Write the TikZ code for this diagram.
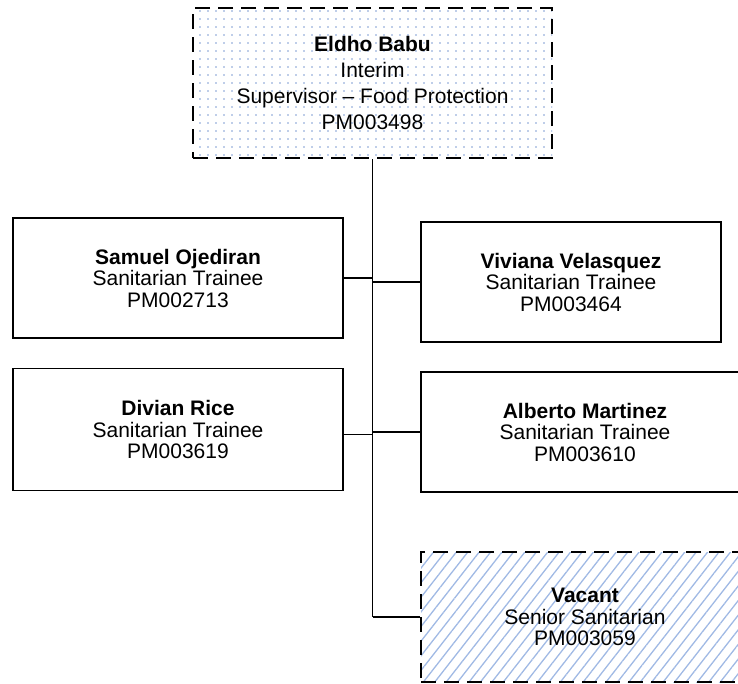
\documentclass[tikz,border=0pt]{standalone}
\usepackage{fontspec}
\setmainfont{Liberation Sans}
\usetikzlibrary{patterns.meta}

\definecolor{dotblue}{RGB}{125,155,210}
\definecolor{hatchblue}{RGB}{160,185,228}

\begin{document}
\begin{tikzpicture}[x=1pt, y=-1pt,
    staffbox/.style={draw, line width=1.8pt, align=center, inner sep=0pt,
      minimum height=120pt, font=\fontsize{21}{21.5}\selectfont},
    openbox/.style={staffbox, dash pattern=on 15pt off 8pt},
    link/.style={line width=1.8pt}]
          \useasboundingbox (0,0) rectangle (738,683);

          \node[openbox, line width=2pt, pattern={Dots[distance=8pt, radius=0.9pt]}, pattern color=dotblue,
                minimum width=359pt, minimum height=150pt,
                font=\fontsize{21}{26.3}\selectfont] (babu) at (372.5, 83)
                {\textbf{Eldho Babu}\\Interim\\Supervisor – Food Protection\\PM003498};
          \node[staffbox, minimum width=330pt] (ojediran) at (178, 278)
                {\textbf{Samuel Ojediran}\\Sanitarian Trainee\\PM002713};
          \node[staffbox, minimum width=300pt] (velasquez) at (571, 282)
                {\textbf{Viviana Velasquez}\\Sanitarian Trainee\\PM003464};
          \node[staffbox, minimum width=330pt, minimum height=122pt] (rice) at (178, 429.5)
                {\textbf{Divian Rice}\\Sanitarian Trainee\\PM003619};
          \node[staffbox, minimum width=328pt] (martinez) at (585, 432)
                {\textbf{Alberto Martinez}\\Sanitarian Trainee\\PM003610};
          \node[openbox, line width=1.4pt, pattern={Lines[angle=52, distance=9pt, line width=1.3pt]},
                pattern color=hatchblue, minimum width=328pt, minimum height=130pt] (vacant) at (585, 617)
                {\textbf{Vacant}\\Senior Sanitarian\\PM003059};

          % reporting lines
          \draw[link] (babu.south) -- (babu.south |- vacant.west);
          \draw[link] (ojediran.east) -- (ojediran.east -| babu.south);
          \draw[link] (velasquez.west) -- (velasquez.west -| babu.south);
          \draw[link] ([yshift=-5pt]rice.east) -- ([yshift=-5pt]rice.east -| babu.south);
          \draw[link] (martinez.west) -- (martinez.west -| babu.south);
          \draw[link] (vacant.west) -- (vacant.west -| babu.south);
        \end{tikzpicture}
\end{document}
